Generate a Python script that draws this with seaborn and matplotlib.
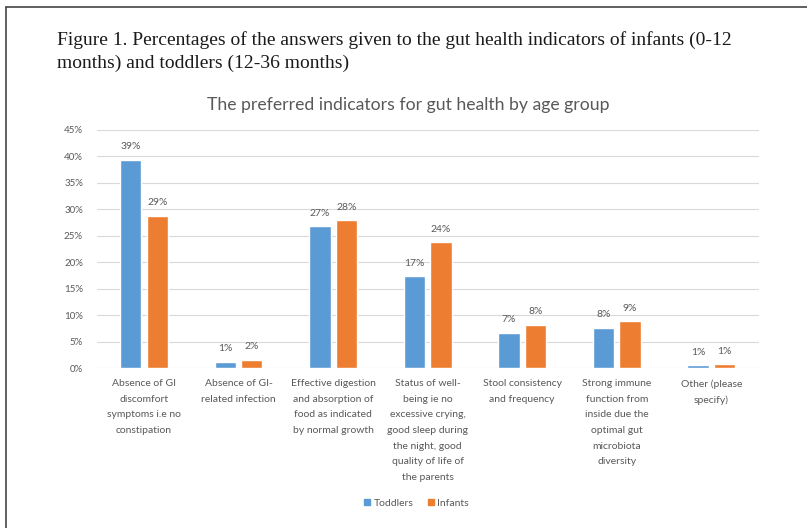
import matplotlib
matplotlib.use("Agg")
import matplotlib.pyplot as plt
import matplotlib.lines as mlines
import seaborn as sns
import pandas as pd

categories = [
    "Absence of GI\ndiscomfort\nsymptoms i.e no\nconstipation",
    "Absence of GI-\nrelated infection",
    "Effective digestion\nand absorption of\nfood as indicated\nby normal growth",
    "Status of well-\nbeing ie no\nexcessive crying,\ngood sleep during\nthe night, good\nquality of life of\nthe parents",
    "Stool consistency\nand frequency",
    "Strong immune\nfunction from\ninside due the\noptimal gut\nmicrobiota\ndiversity",
    "Other (please\nspecify)",
]
toddlers = [39.4, 1.2, 26.8, 17.3, 6.7, 7.6, 0.6]
infants = [28.8, 1.6, 28.0, 23.8, 8.2, 8.9, 0.7]
groups = ["Toddlers", "Infants"]
colors = {"Toddlers": "#5B9BD5", "Infants": "#ED7D31"}

df = pd.DataFrame({
    "indicator": categories * 2,
    "group": ["Toddlers"] * len(categories) + ["Infants"] * len(categories),
    "pct": toddlers + infants,
})

sns.set_style("white")
plt.rcParams["font.family"] = ["Lato", "DejaVu Sans"]
grey = "#595959"

fig = plt.figure(figsize=(8.07, 5.28), dpi=100)
ax = fig.add_axes([0.120, 0.303, 0.820, 0.451])

sns.barplot(data=df, x="indicator", y="pct", hue="group", hue_order=groups,
            palette=colors, saturation=1, width=0.56, gap=0.2, ax=ax, legend=False)

for cont in ax.containers:
    vals = [b.get_height() for b in cont]
    ax.bar_label(cont, labels=[f"{round(v)}%" for v in vals], padding=6,
                 fontsize=7.5, color=grey)

ax.set_ylim(0, 45)
ax.set_yticks(range(0, 50, 5))
ax.set_yticklabels([f"{t}%" for t in range(0, 50, 5)])
ax.yaxis.grid(True, color="#D9D9D9", linewidth=0.8)
ax.set_axisbelow(True)
for s in ax.spines.values():
    s.set_visible(False)
ax.tick_params(axis="y", labelsize=7, colors=grey, length=0, pad=10)
ax.tick_params(axis="x", labelsize=7.5, colors=grey, length=0, pad=8)
for lbl in ax.get_xticklabels():
    lbl.set_linespacing(1.95)
ax.set_xlabel("")
ax.set_ylabel("")

ax.set_title("The preferred indicators for gut health by age group",
             fontsize=12.7, color=grey, pad=14, x=0.47)

# figure caption in serif
fig.text(57 / 807, 1 - 31 / 528,
         "Figure 1. Percentages of the answers given to the gut health indicators of infants (0-12\n"
         "months) and toddlers (12-36 months)",
         family="Liberation Serif", fontsize=14, color="#1a1a1a",
         va="top", ha="left", linespacing=1.4)

# legend at the bottom
handles = [mlines.Line2D([], [], marker="s", linestyle="none", markersize=5,
                         color=colors[g], label=g) for g in groups]
fig.legend(handles=handles, loc="center", bbox_to_anchor=(416 / 807, 1 - 503 / 528),
           ncol=2, frameon=False, fontsize=7.5, labelcolor=grey,
           handletextpad=0.2, columnspacing=1.3, handlelength=0.8)

# page border lines (left and top)
fig.add_artist(mlines.Line2D([6 / 807, 6 / 807], [0, 1 - 7 / 528],
                             transform=fig.transFigure, color="#444444", lw=1.2))
fig.add_artist(mlines.Line2D([6 / 807, 1], [1 - 7 / 528, 1 - 7 / 528],
                             transform=fig.transFigure, color="#444444", lw=1.2))

fig.savefig("out.png", dpi=100, facecolor="white")
